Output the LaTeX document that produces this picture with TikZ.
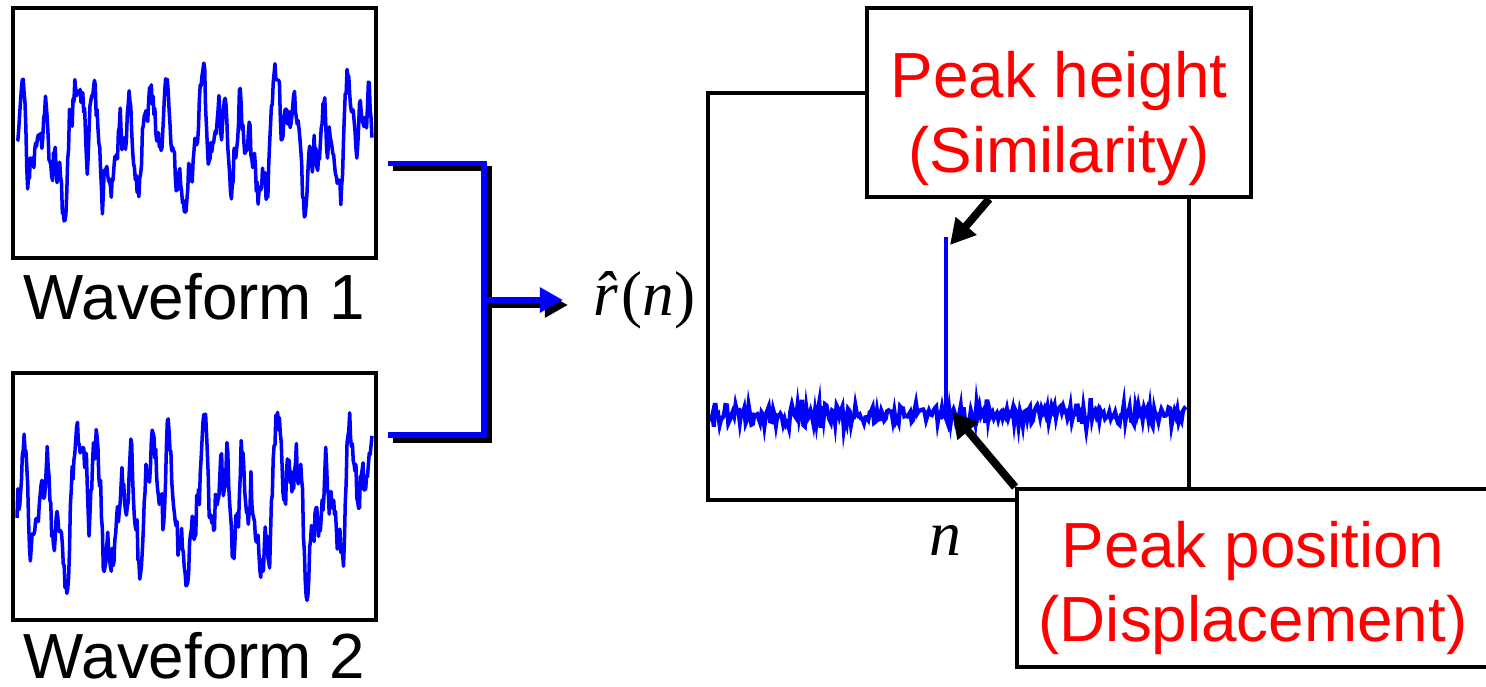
\documentclass[tikz,border=0pt]{standalone}
\usepackage{fontspec}
\setmainfont{Liberation Sans}
\newfontfamily\timesfont{Liberation Serif}
\usetikzlibrary{arrows.meta,positioning,calc}

\begin{document}
\begin{tikzpicture}[>=Stealth,
  box/.style={draw,line width=2.2pt,fill=white},
  big/.style={font=\fontsize{36.3}{42.5}\selectfont,inner sep=0pt},
  wave/.style={blue,line width=2pt,line join=round},
  bus/.style={line width=3.4pt},
  callarrow/.style={-{Triangle[length=0.5cm,width=0.52cm]},line width=4.5pt},
  declare function={
    sn(\f,\p,\t)=sin(deg(mod(\f*\t+\p,6.28319)));
    wf(\t)=0.45*sn(4.7,0,\t)+0.45*sn(7.9,1,\t)+0.4*sn(12.6,2,\t)+0.35*sn(17.3,0.4,\t)
      +0.3*sn(26.1,2.6,\t)+0.2*sn(41.9,0.7,\t)+0.12*sn(63,1.5,\t);
    cl(\v,\a)=max(-\a,min(\a,\v));}]
\useasboundingbox (0,0) rectangle (29.72,13.74);
\pgfmathsetseed{11}

% input waveforms
\node[box,minimum width=7.26cm,minimum height=5cm] (wave1) at (3.89,11.08) {};
\node[box,minimum width=7.26cm,minimum height=4.94cm] (wave2) at (3.89,3.81) {};
\draw[wave] plot[domain=0.34:7.44,samples=400] (\x,{10.92+cl(1.1*wf(\x)+0.22*rand,1.6)});
\draw[wave] plot[domain=0.34:7.44,samples=400] (\x,{3.69+cl(1.3*wf(\x-0.04)+0.28*rand,2.0)});
\node[big,below=0.26cm of wave1] (lab1) {Waveform 1};
\node[big,below=0.2cm of wave2] (lab2) {Waveform 2};

% correlation
\coordinate (in1) at (7.76,10.47);
\coordinate (in2) at (7.76,5.04);
\coordinate (join) at (9.68,7.74);
\node[font=\fontsize{36}{40}\selectfont\timesfont,inner sep=0pt] (rhat) at (12.89,7.74)
  {\textit{r}\llap{\textit{\char"02C6}\kern0.02em}\kern0.06em(\textit{n})};
\foreach \c/\s in {black/0.1,blue/0}{
  \begin{scope}[transform canvas={shift={(\s,-\s)}}]
  \draw[bus,\c] (in1) -| (join |- in2) -- (in2);
  \draw[bus,\c,-{Triangle[length=0.46cm,width=0.48cm]},shorten >=0.6cm] (join) -- (rhat.west |- join);
  \end{scope}
}

% output
\node[box,minimum width=9.62cm,minimum height=8.14cm] (plotbox) at (18.97,7.81) {};
\draw[blue,line width=2.4pt] plot[domain=14.22:23.72,samples=330] (\x,{5.44+0.2*rand+0.3*rand*rand*rand});
\coordinate (peakbase) at (18.92,5.44);
\coordinate (peaktop) at (18.92,9.0);
\draw[blue,line width=2.4pt] (peakbase) -- (peaktop);
\coordinate (hit1) at (19.0,8.84);
\coordinate (hit2) at (19.04,5.5);
\node[big] (nlab) at (18.9,2.94) {\timesfont\itshape n};

% callouts
\node[box,minimum width=7.68cm,minimum height=3.78cm] (callheight) at (21.18,11.69) {};
\node[big,red,align=center] (txtheight) at (21.18,11.37) {Peak height\\(Similarity)};
\node[box,minimum width=9.44cm,minimum height=3.56cm] (callpos) at (25.06,2.18) {};
\node[big,red,align=center] (txtpos) at (25.06,1.98) {Peak position\\(Displacement)};
\draw[callarrow] ($(callheight.south west)!0.32!(callheight.south east)$) -- (hit1);
\draw[callarrow] (callpos.north west) -- (hit2);
\end{tikzpicture}
\end{document}
